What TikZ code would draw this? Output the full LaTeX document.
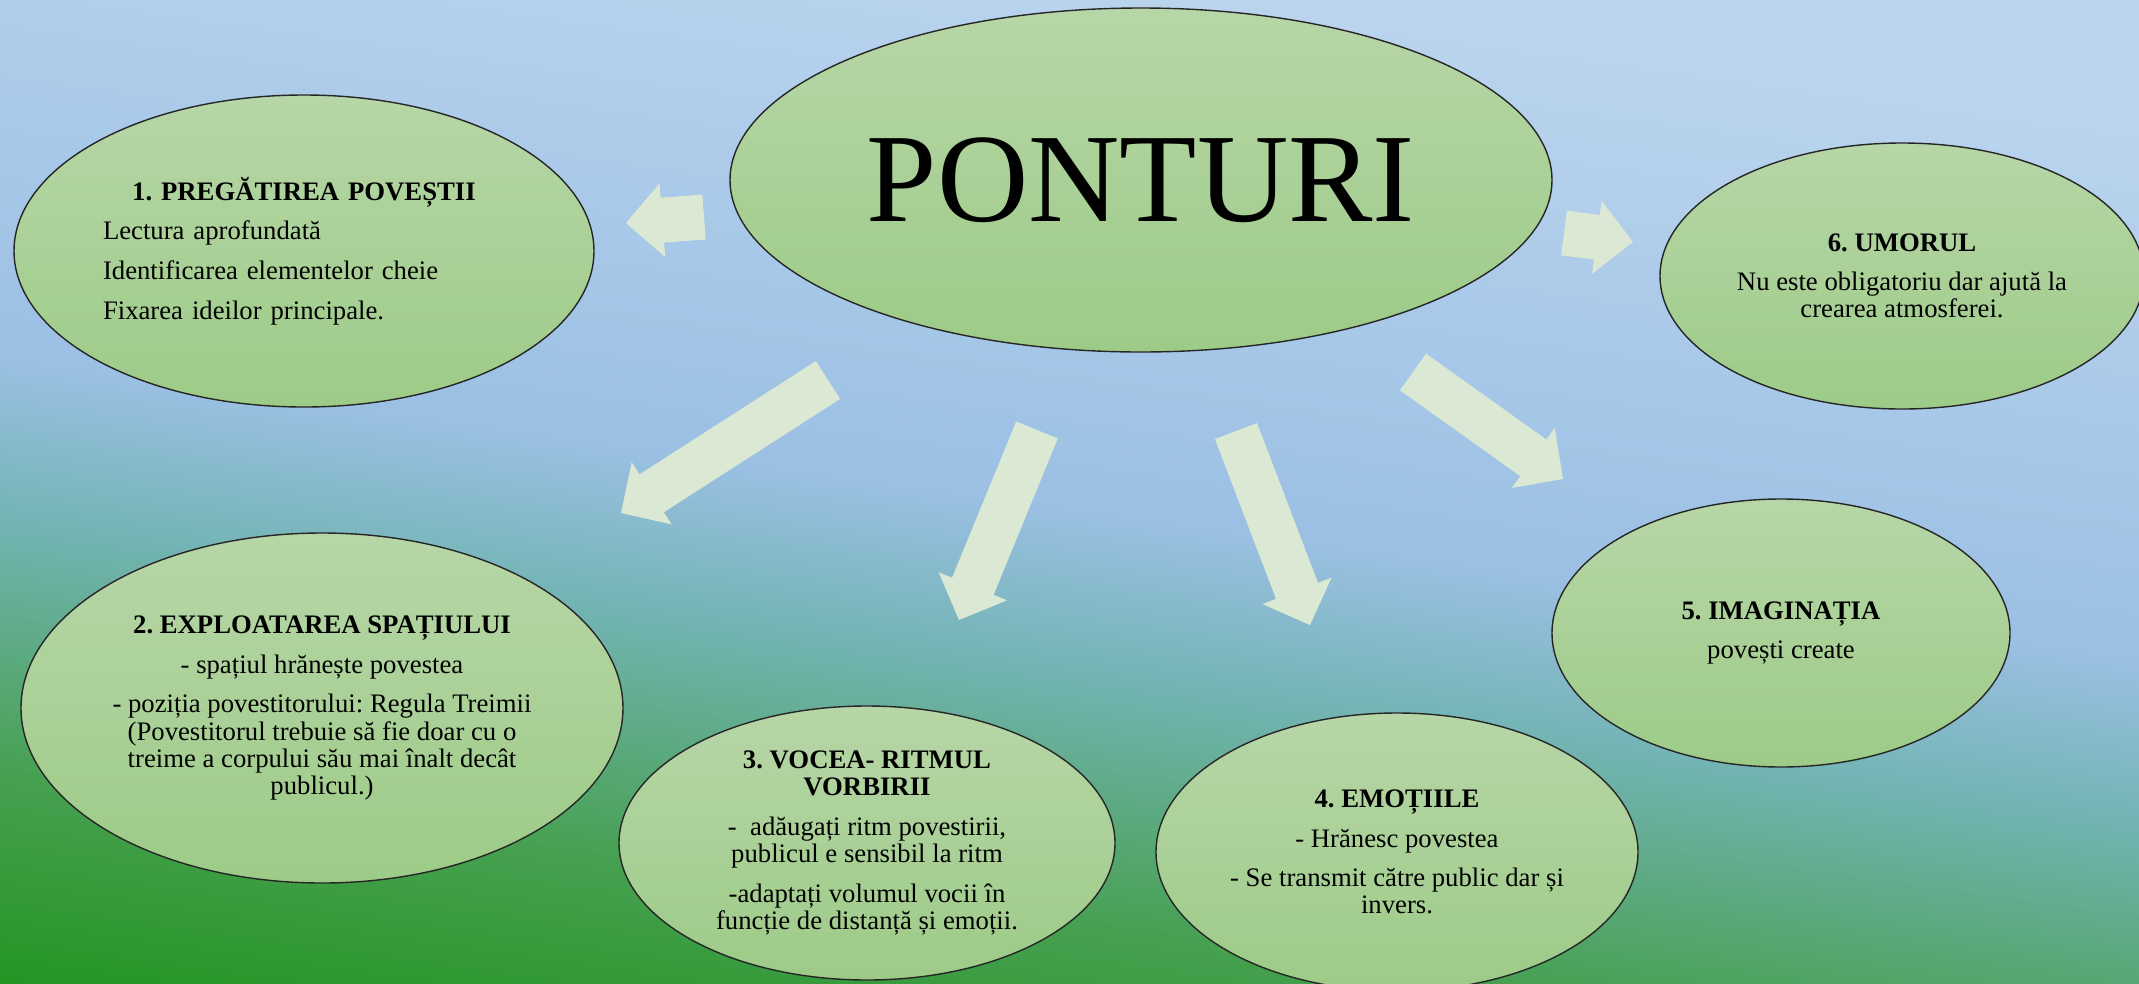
\documentclass[tikz,border=0pt]{standalone}
\usepackage{fontspec}
\setmainfont{Liberation Serif}
\usetikzlibrary{shapes.geometric,calc}
\frenchspacing

\definecolor{skyTop}{RGB}{188,213,238}
\definecolor{skyMid}{RGB}{155,192,228}
\definecolor{skyTeal}{RGB}{115,180,180}
\definecolor{grassGreen}{RGB}{70,160,80}
\definecolor{grassBot}{RGB}{34,148,32}
\definecolor{ellTop}{RGB}{183,214,167}
\definecolor{ellBot}{RGB}{157,203,135}
\definecolor{arrowFill}{RGB}{219,232,211}

\pgfdeclareverticalshading{sky}{100bp}{color(0bp)=(grassBot); color(28bp)=(grassBot); color(35.5bp)=(grassGreen); color(44bp)=(skyTeal); color(49.5bp)=(skyMid); color(68bp)=(skyTop); color(100bp)=(skyTop)}

\newcommand\txtfont{\fontsize{7.6}{7.7}\selectfont}
\newcommand\pgap{1.25mm}

% block arrow from tail coordinate to tip coordinate
\newcommand\blockarrow[2]{%
  \coordinate (nk) at ($(#2)!3.65mm!(#1)$);
  \fill[arrowFill] ($(#1)!2.25mm!90:(#2)$) -- ($(nk)!2.25mm!90:(#2)$)
    -- ($(nk)!3.7mm!90:(#2)$) -- (#2) -- ($(nk)!3.7mm!-90:(#2)$)
    -- ($(nk)!2.25mm!-90:(#2)$) -- ($(#1)!2.25mm!-90:(#2)$) -- cycle;}

\tikzset{
  idea/.style={ellipse, draw=black!85, line width=0.4pt, top color=ellTop,
    bottom color=ellBot, inner sep=0pt, align=center, font=\txtfont}
}

\begin{document}
\begin{tikzpicture}[x=0.1mm,y=-0.1mm]
\useasboundingbox (0,0) rectangle (2139,983);
\clip (0,0) rectangle (2139,983);

% Background, tilted a little
\shade[shading=sky, transform canvas={rotate around={-8:(1070,490)}}]
  (-300,-250) rectangle (2439,1233);

% Arrows out of the centre
\coordinate (a1t) at (704,217);  \coordinate (a1h) at (626,223);
\coordinate (a2t) at (828,380);  \coordinate (a2h) at (621,513);
\coordinate (a3t) at (1037,430); \coordinate (a3h) at (959,620);
\coordinate (a4t) at (1236,431); \coordinate (a4h) at (1310,625);
\coordinate (a5t) at (1413,372); \coordinate (a5h) at (1563,479);
\coordinate (a6t) at (1564,233); \coordinate (a6h) at (1633,242);
\foreach \tl/\hd in {a1t/a1h,a2t/a2h,a3t/a3h,a4t/a4h,a5t/a5h,a6t/a6h}
  {\blockarrow{\tl}{\hd}}

% Central idea
\node[idea, minimum width=82.2mm, minimum height=34.4mm,
  font=\fontsize{36}{42}\selectfont] (pont) at (1141,180) {PONTURI};

% Tips
\node[idea, minimum width=58mm, minimum height=31.2mm, text width=40.2mm,
  align=left] (e1) at (304,251)
  {{\centering\textbf{1. PREGĂTIREA POVEȘTII}\par}\vspace{\pgap}Lectura aprofundată\\[\pgap]Identificarea elementelor cheie\\[\pgap]Fixarea ideilor principale.};
\node[idea, minimum width=60.2mm, minimum height=35mm] (e2) at (322,708)
  {\textbf{2. EXPLOATAREA SPAȚIULUI}\\[\pgap] - spațiul hrănește povestea\\[\pgap] - poziția povestitorului: Regula Treimii\\ (Povestitorul trebuie să fie doar cu o\\ treime a corpului său mai înalt decât\\ publicul.)};
\node[idea, minimum width=49.6mm, minimum height=27.4mm] (e3) at (867,843)
  {\textbf{3. VOCEA- RITMUL}\\ \textbf{VORBIRII}\\[\pgap] -\ \ adăugați ritm povestirii,\\ publicul e sensibil la ritm\\[\pgap] -adaptați volumul vocii în\\ funcție de distanță și emoții.};
\node[idea, minimum width=48.2mm, minimum height=27.8mm] (e4) at (1397,852)
  {\textbf{4. EMOȚIILE}\\[\pgap] - Hrănesc povestea\\[\pgap] - Se transmit către public dar și\\ invers.};
\node[idea, minimum width=45.8mm, minimum height=26.8mm] (e5) at (1781,633)
  {\textbf{5. IMAGINAȚIA}\\[\pgap] povești create};
\node[idea, minimum width=48.4mm, minimum height=26.6mm] (e6) at (1902,276)
  {\textbf{6. UMORUL}\\[\pgap] Nu este obligatoriu dar ajută la\\ crearea atmosferei.};
\end{tikzpicture}
\end{document}
